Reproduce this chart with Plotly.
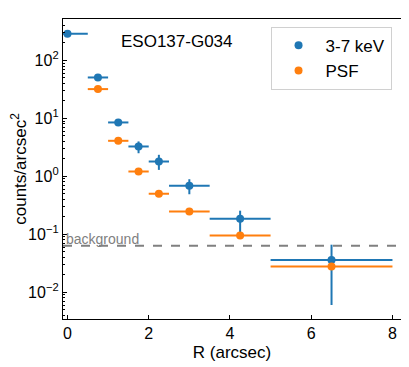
import plotly.graph_objects as go

# radial profile bins (arcsec)
r_src = [0.0, 0.75, 1.25, 1.75, 2.25, 3.0, 4.25, 6.5]
r_halfwidth = [0.5, 0.25, 0.25, 0.25, 0.25, 0.5, 0.75, 1.5]
src_counts = [289, 50.8, 8.5, 3.27, 1.80, 0.69, 0.185, 0.036]
src_err_hi = [0, 2.0, 0.7, 0.73, 0.55, 0.2, 0.07, 0.030]
src_err_lo = [0, 2.0, 0.7, 0.77, 0.51, 0.2, 0.085, 0.030]

r_psf = [0.75, 1.25, 1.75, 2.25, 3.0, 4.25, 6.5]
psf_halfwidth = [0.25, 0.25, 0.25, 0.25, 0.5, 0.75, 1.5]
psf_counts = [32, 4.1, 1.21, 0.50, 0.246, 0.095, 0.0277]

background = 0.063

x_ticks = [0, 2, 4, 6, 8]
y_ticks = [0.01, 0.1, 1, 10, 100]
y_ticktext = ["10<sup>\u22122</sup>", "10<sup>\u22121</sup>", "10<sup>0</sup>",
              "10<sup>1</sup>", "10<sup>2</sup>"]

blue = "#1f77b4"
orange = "#ff7f0e"
font = "Arial"

fig = go.Figure()

fig.add_trace(go.Scatter(
    x=[-0.11, 8.21], y=[background, background],
    mode="lines", line=dict(color="#808080", width=2, dash="dash"),
    showlegend=False, hoverinfo="skip",
))

fig.add_trace(go.Scatter(
    x=r_src, y=src_counts, mode="markers", name="3-7 keV",
    marker=dict(color=blue, size=8),
    error_x=dict(type="data", array=r_halfwidth, color=blue, thickness=2, width=0),
    error_y=dict(type="data", array=src_err_hi, arrayminus=src_err_lo,
                 color=blue, thickness=2, width=0),
))

fig.add_trace(go.Scatter(
    x=r_psf, y=psf_counts, mode="markers", name="PSF",
    marker=dict(color=orange, size=8),
    error_x=dict(type="data", array=psf_halfwidth, color=orange, thickness=2, width=0),
))

fig.add_annotation(
    x=-0.08, y=-1.2, xref="x", yref="y", text="background", showarrow=False,
    xanchor="left", yanchor="bottom", font=dict(family=font, size=14, color="#808080"),
    yshift=-3,
)
fig.add_annotation(
    x=0.166, y=0.926, xref="paper", yref="paper", text="ESO137-G034", showarrow=False,
    xanchor="left", yanchor="middle", font=dict(family=font, size=17, color="black"),
)

axis_common = dict(
    showline=True, linecolor="black", linewidth=1.3, mirror=True,
    ticks="inside", tickcolor="black", ticklen=4, showgrid=False, zeroline=False,
    tickfont=dict(family=font, size=16, color="black"), automargin=False,
)

fig.update_xaxes(
    range=[-0.11, 8.21], tickvals=x_ticks,
    title=dict(text="R (arcsec)", font=dict(family=font, size=17, color="black"), standoff=4),
    **axis_common,
)
fig.update_yaxes(
    type="log", range=[-2.463, 2.715], tickvals=y_ticks, ticktext=y_ticktext,
    minor=dict(ticks="inside", ticklen=2, tickcolor="black", dtick="D1"),
    title=dict(text="counts/arcsec<sup>2</sup>", font=dict(family=font, size=17, color="black"), standoff=4),
    **axis_common,
)

# page body adds an 8px offset, so the figure is sized to fit the window
fig.update_layout(
    width=401, height=359,
    margin=dict(l=55, r=8, t=11, b=48),
    plot_bgcolor="white", paper_bgcolor="white",
    legend=dict(
        x=0.972, y=0.974, xanchor="right", yanchor="top",
        bordercolor="#d0d0d0", borderwidth=1, bgcolor="white",
        font=dict(family=font, size=17, color="black"),
        itemwidth=44, tracegroupgap=4,
    ),
)

fig.write_html("out.html")
